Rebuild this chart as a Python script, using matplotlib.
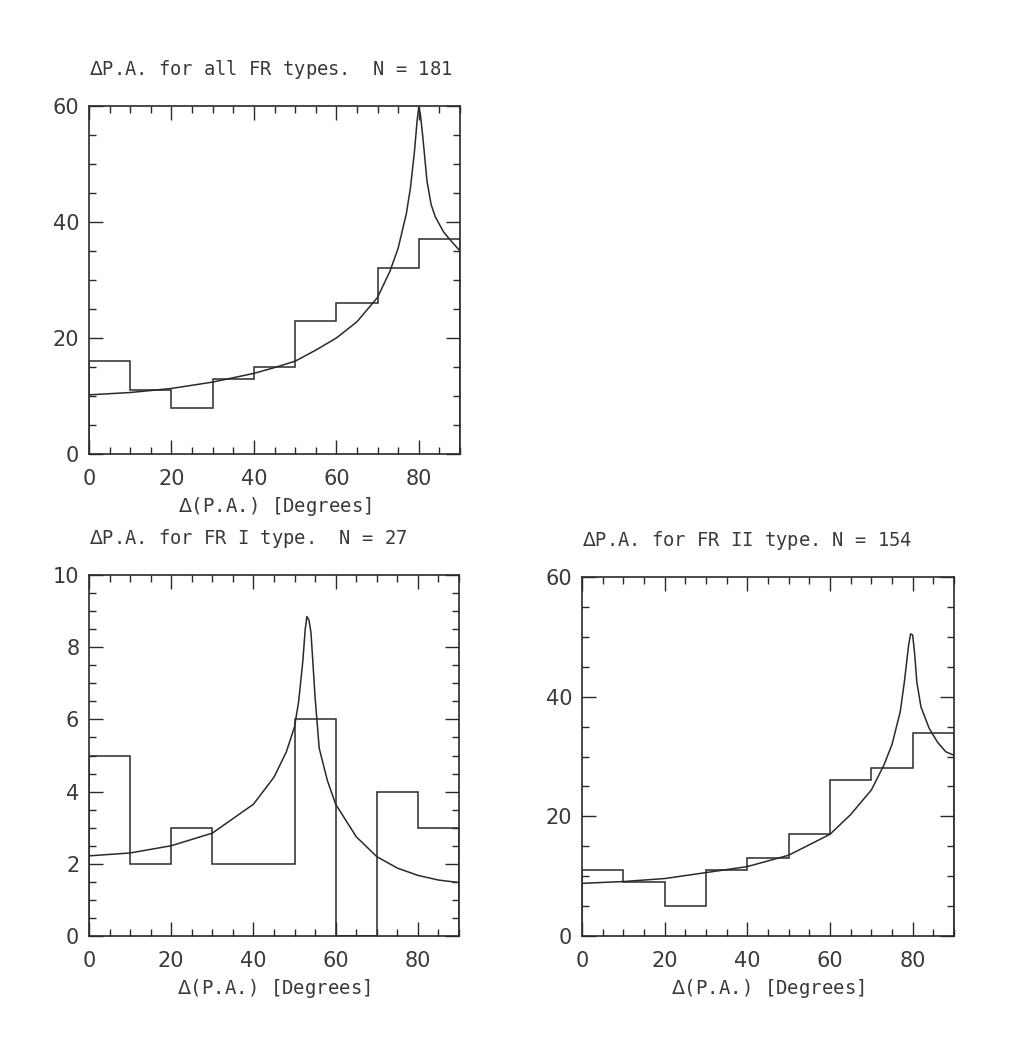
import matplotlib
matplotlib.use("Agg")
import matplotlib.pyplot as plt
from matplotlib.ticker import MultipleLocator

# ---- data ----
bin_edges = [0, 10, 20, 30, 40, 50, 60, 70, 80, 90]

all_counts = [16, 11, 8, 13, 15, 23, 26, 32, 37]
fr1_counts = [5, 2, 3, 2, 2, 6, 0, 4, 3]
fr2_counts = [11, 9, 5, 11, 13, 17, 26, 28, 34]

all_curve_x = [0, 10, 20, 30, 40, 45, 50, 55, 60, 65, 70, 73, 75, 77, 78, 79, 79.6, 80, 80.4, 81, 82, 83, 84, 86, 88, 90]
all_curve_y = [10.2, 10.6, 11.3, 12.4, 13.9, 14.9, 16.0, 17.9, 20.0, 22.8, 27.0, 31.5, 35.5, 41.5, 46.0, 52.5, 57.5, 59.8, 58.5, 54.5, 47.0, 43.0, 40.9, 38.3, 36.6, 35.0]

fr1_curve_x = [0, 10, 20, 30, 40, 45, 48, 50, 51, 52, 52.6, 53, 53.5, 54, 55, 56, 58, 60, 65, 70, 75, 80, 85, 90]
fr1_curve_y = [2.22, 2.3, 2.5, 2.85, 3.65, 4.4, 5.1, 5.8, 6.5, 7.6, 8.5, 8.85, 8.75, 8.4, 6.6, 5.2, 4.3, 3.65, 2.75, 2.2, 1.88, 1.68, 1.55, 1.48]

fr2_curve_x = [0, 10, 20, 30, 40, 50, 60, 65, 70, 73, 75, 77, 78, 79, 79.5, 80, 80.5, 81, 82, 84, 86, 88, 90]
fr2_curve_y = [8.8, 9.1, 9.6, 10.6, 11.6, 13.5, 17.0, 20.3, 24.4, 28.5, 32.0, 37.5, 42.5, 48.5, 50.5, 50.3, 47.0, 42.5, 38.3, 34.7, 32.4, 30.8, 30.2]

titles = [r"$\Delta$P.A. for all FR types.  N = 181",
          r"$\Delta$P.A. for FR I type.  N = 27",
          r"$\Delta$P.A. for FR II type. N = 154"]
xlabel = r"$\Delta$(P.A.) [Degrees]"

W, H = 1027, 1047
fig = plt.figure(figsize=(W / 100, H / 100), dpi=100)
fig.patch.set_facecolor("white")

plt.rcParams["mathtext.fontset"] = "dejavusans"

def box(l, r, t, b):
    return [l / W, 1 - b / H, (r - l) / W, (b - t) / H]

txtcol = "#3a3a3a"
linecol = "#2a2a2a"
tfont = "DejaVu Sans Mono"
nfont = "DejaVu Sans"

def setup(ax, ymax, ymajor, yminor, title, counts, cx, cy):
    ax.stairs(counts, bin_edges, color=linecol, lw=1.1)
    ax.plot(cx, cy, color=linecol, lw=1.1)
    ax.set_xlim(0, 90)
    ax.set_ylim(0, ymax)
    ax.xaxis.set_major_locator(MultipleLocator(20))
    ax.xaxis.set_minor_locator(MultipleLocator(5))
    ax.yaxis.set_major_locator(MultipleLocator(ymajor))
    ax.yaxis.set_minor_locator(MultipleLocator(yminor))
    ax.tick_params(which="both", direction="in", top=True, right=True, color=linecol, width=1.0)
    ax.tick_params(which="major", length=10, labelsize=15, labelcolor=txtcol)
    ax.tick_params(axis="x", which="major", pad=11)
    ax.tick_params(axis="y", which="major", pad=7)
    ax.tick_params(which="minor", length=5)
    for sp in ax.spines.values():
        sp.set_color(linecol)
        sp.set_linewidth(1.2)
    for lab in ax.get_xticklabels() + ax.get_yticklabels():
        lab.set_family(nfont)
    ax.set_xlabel(xlabel, fontsize=13.7, color=txtcol, family=tfont, labelpad=4)
    ax.set_title(title, fontsize=13.5, color=txtcol, family=tfont, loc="left", pad=22)

ax1 = fig.add_axes(box(89, 460, 106, 454))
setup(ax1, 60, 20, 5, titles[0], all_counts, all_curve_x, all_curve_y)

ax2 = fig.add_axes(box(89, 459, 575, 936))
setup(ax2, 10, 2, 0.5, titles[1], fr1_counts, fr1_curve_x, fr1_curve_y)

ax3 = fig.add_axes(box(582, 954, 577, 936))
setup(ax3, 60, 20, 5, titles[2], fr2_counts, fr2_curve_x, fr2_curve_y)

fig.savefig("out.png", dpi=100, facecolor="white")
